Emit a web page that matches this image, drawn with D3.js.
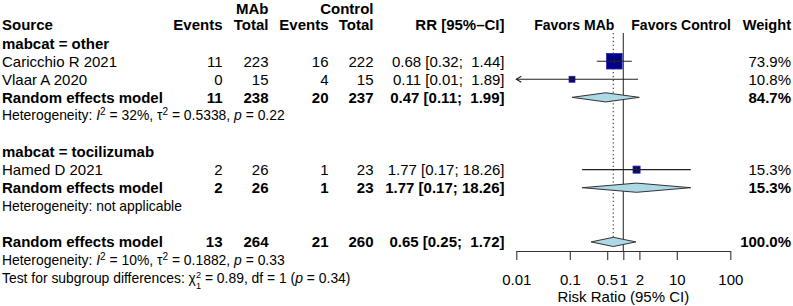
<!DOCTYPE html>
<html><head><meta charset="utf-8">
<script src="https://cdn.jsdelivr.net/npm/d3@7"></script>
<style>
body{margin:0;background:#fff}
svg{display:block}
text{font-family:"Liberation Sans",Arial,Helvetica,sans-serif;fill:#000;white-space:pre}
</style>
</head><body>
<svg id="chart" width="793" height="306"></svg>
<script>
// ---------- data ----------
const groupLabels = ["mabcat = other", "mabcat = tocilizumab"];
const studyNames = ["Caricchio R 2021", "Vlaar A 2020", "Hamed D 2021"];
const studyGroup = [0, 0, 1];
const eventsMAb = [11, 0, 2];
const totalMAb = [223, 15, 26];
const eventsCtrl = [16, 4, 1];
const totalCtrl = [222, 15, 23];
const rrStudy = [0.68, 0.11, 1.77];
const lowStudy = [0.32, 0.0066, 0.17];
const highStudy = [1.44, 1.89, 18.26];
const weightStudy = [73.9, 10.8, 15.3];

const reEventsMAb = [11, 2];
const reTotalMAb = [238, 26];
const reEventsCtrl = [20, 1];
const reTotalCtrl = [237, 23];
const rrGroup = [0.47, 1.77];
const lowGroup = [0.11, 0.17];
const highGroup = [1.99, 18.26];
const weightGroup = [84.7, 15.3];
const hetGroup = [
  {i2: "32%", tau2: "0.5338", p: "0.22"},
  null
];

const overall = {eventsMAb: 13, totalMAb: 264, eventsCtrl: 21, totalCtrl: 260, rr: 0.65, low: 0.25, high: 1.72, weight: 100.0};
const hetOverall = {i2: "10%", tau2: "0.1882", p: "0.33"};
const subgroupTest = {chi2: "0.89", df: "1", p: "0.34"};

const tickValues = [0.01, 0.1, 0.5, 1, 2, 10, 100];
const axisTitle = "Risk Ratio (95% CI)";
const leftLabel = "Favors MAb";
const rightLabel = "Favors Control";

// ---------- layout ----------
const svg = d3.select("#chart");
const FS = 15, FSH = 13.9, FSL = 14;
const x = d3.scaleLog().domain([0.01, 100]).range([516.3, 730.3]);
const nRows = 16;
const y = d3.scaleLinear().domain([0, nRows - 1]).range([7, 7 + 15 * 18.07]);
const col = {src: 2, ev: 222.5, tot: 268.5, cev: 328.5, ctot: 373.5, rr: 504.5, wt: 791};

function txt(xp, yp, s, opt = {}) {
  return svg.append("text")
    .attr("x", xp)
    .attr("y", yp)
    .attr("dy", "0.36em")
    .attr("font-size", opt.fs || FS)
    .attr("font-weight", opt.bold ? "bold" : "normal")
    .attr("text-anchor", opt.anchor || "start")
    .text(s);
}

const fmt2 = v => v.toFixed(2);
function ciText(rr, lo, hi) {
  return fmt2(rr) + " [" + fmt2(lo) + "; " + fmt2(hi).padStart(5, " ") + "]";
}

// build rows
const rows = [];
rows.push({type: "h1"});
rows.push({type: "h2"});
groupLabels.forEach((g, gi) => {
  rows.push({type: "group", label: g});
  studyNames.forEach((s, i) => { if (studyGroup[i] === gi) rows.push({type: "study", i}); });
  rows.push({type: "re", gi});
  rows.push({type: "hetg", gi});
  rows.push({type: "blank"});
});
rows.pop();
rows.push({type: "blank"});
rows.push({type: "overall"});
rows.push({type: "hetall"});
rows.push({type: "test"});

function hetText(yp, h) {
  const t = txt(col.src, yp, "", {fs: FSH});
  if (!h) { t.text("Heterogeneity: not applicable"); return; }
  t.append("tspan").text("Heterogeneity: ");
  t.append("tspan").attr("font-style", "italic").text("I");
  t.append("tspan").attr("font-size", FSH * 0.72).attr("dy", -5).text("2");
  t.append("tspan").attr("dy", 5).text(" = " + h.i2 + ", \u03C4");
  t.append("tspan").attr("font-size", FSH * 0.72).attr("dy", -5).text("2");
  t.append("tspan").attr("dy", 5).text(" = " + h.tau2 + ", ");
  t.append("tspan").attr("font-style", "italic").text("p");
  t.append("tspan").text(" = " + h.p);
}

// plot reference lines (behind marks)
const rowOverall = rows.findIndex(r => r.type === "overall");
const axisY = (y(rowOverall) + y(rowOverall + 1)) / 2;
const topY = y(1) + 8;
svg.append("line").attr("x1", x(1)).attr("x2", x(1)).attr("y1", topY).attr("y2", axisY)
  .attr("stroke", "#333").attr("stroke-width", 1.1);
svg.append("line").attr("x1", x(overall.rr)).attr("x2", x(overall.rr)).attr("y1", topY).attr("y2", y(rowOverall) - 4.5)
  .attr("stroke", "#555").attr("stroke-width", 1.3).attr("stroke-dasharray", "1.3,2.6");

const diamondH = 4.6;
function diamond(yc, rr, lo, hi) {
  const pts = [[x(lo), yc], [x(rr), yc - diamondH], [x(hi), yc], [x(rr), yc + diamondH]];
  svg.append("polygon").attr("points", pts.map(p => p.join(",")).join(" "))
    .attr("fill", "#ADD8E6").attr("stroke", "#333").attr("stroke-width", 1);
}

const maxW = d3.max(weightStudy);
rows.forEach((r, k) => {
  const yk = y(k);
  if (r.type === "h1") {
    txt(col.tot, yk + 2, "MAb", {bold: true, anchor: "end"});
    txt(col.ctot, yk + 2, "Control", {bold: true, anchor: "end"});
  } else if (r.type === "h2") {
    txt(col.src, yk, "Source", {bold: true});
    txt(col.ev, yk, "Events", {bold: true, anchor: "end"});
    txt(col.tot, yk, "Total", {bold: true, anchor: "end"});
    txt(col.cev, yk, "Events", {bold: true, anchor: "end"});
    txt(col.ctot, yk, "Total", {bold: true, anchor: "end"});
    txt(col.rr, yk, "RR [95%\u2013CI]", {bold: true, anchor: "end"});
    txt(x(1) - 9, yk, leftLabel, {bold: true, anchor: "end", fs: FSL});
    txt(x(1) + 8, yk, rightLabel, {bold: true, fs: FSL});
    txt(col.wt, yk, "Weight", {bold: true, anchor: "end", fs: 14.6});
  } else if (r.type === "group") {
    txt(col.src, yk, r.label, {bold: true});
  } else if (r.type === "study") {
    const i = r.i;
    txt(col.src, yk, studyNames[i]);
    txt(col.ev, yk, String(eventsMAb[i]), {anchor: "end"});
    txt(col.tot, yk, String(totalMAb[i]), {anchor: "end"});
    txt(col.cev, yk, String(eventsCtrl[i]), {anchor: "end"});
    txt(col.ctot, yk, String(totalCtrl[i]), {anchor: "end"});
    txt(col.rr, yk, ciText(rrStudy[i], lowStudy[i], highStudy[i]), {anchor: "end"});
    txt(col.wt, yk, weightStudy[i].toFixed(1) + "%", {anchor: "end"});
    // marks
    const side = 15.6 * Math.sqrt(weightStudy[i] / maxW);
    svg.append("rect").attr("x", x(rrStudy[i]) - side / 2).attr("y", yk - side / 2)
      .attr("width", side).attr("height", side)
      .attr("fill", "#00008B").attr("stroke", "#2828a8").attr("stroke-width", 0.8);
    const [d0, d1] = x.domain();
    const lo = Math.max(lowStudy[i], d0), hi = Math.min(highStudy[i], d1);
    svg.append("line").attr("x1", x(lo)).attr("x2", x(hi)).attr("y1", yk).attr("y2", yk)
      .attr("stroke", "#222").attr("stroke-width", 1.1);
    svg.append("line").attr("x1", x(rrStudy[i])).attr("x2", x(rrStudy[i])).attr("y1", yk - 2.5).attr("y2", yk + 2.5)
      .attr("stroke", "#222").attr("stroke-width", 1.1);
    if (lowStudy[i] < d0) {
      const ax = x(d0);
      svg.append("path").attr("d", `M${ax + 5},${yk - 3}L${ax},${yk}L${ax + 5},${yk + 3}`)
        .attr("fill", "none").attr("stroke", "#222").attr("stroke-width", 1.1);
    }
  } else if (r.type === "re") {
    const gi = r.gi;
    txt(col.src, yk, "Random effects model", {bold: true});
    txt(col.ev, yk, String(reEventsMAb[gi]), {bold: true, anchor: "end"});
    txt(col.tot, yk, String(reTotalMAb[gi]), {bold: true, anchor: "end"});
    txt(col.cev, yk, String(reEventsCtrl[gi]), {bold: true, anchor: "end"});
    txt(col.ctot, yk, String(reTotalCtrl[gi]), {bold: true, anchor: "end"});
    txt(col.rr, yk, ciText(rrGroup[gi], lowGroup[gi], highGroup[gi]), {bold: true, anchor: "end"});
    txt(col.wt, yk, weightGroup[gi].toFixed(1) + "%", {bold: true, anchor: "end"});
    diamond(yk, rrGroup[gi], lowGroup[gi], highGroup[gi]);
  } else if (r.type === "hetg") {
    hetText(yk, hetGroup[r.gi]);
  } else if (r.type === "overall") {
    txt(col.src, yk, "Random effects model", {bold: true});
    txt(col.ev, yk, String(overall.eventsMAb), {bold: true, anchor: "end"});
    txt(col.tot, yk, String(overall.totalMAb), {bold: true, anchor: "end"});
    txt(col.cev, yk, String(overall.eventsCtrl), {bold: true, anchor: "end"});
    txt(col.ctot, yk, String(overall.totalCtrl), {bold: true, anchor: "end"});
    txt(col.rr, yk, ciText(overall.rr, overall.low, overall.high), {bold: true, anchor: "end"});
    txt(col.wt, yk, overall.weight.toFixed(1) + "%", {bold: true, anchor: "end"});
    diamond(yk, overall.rr, overall.low, overall.high);
  } else if (r.type === "hetall") {
    hetText(yk, hetOverall);
  } else if (r.type === "test") {
    const t = txt(col.src, yk, "", {fs: FSH});
    const fsS = 9.2;
    t.append("tspan").text("Test for subgroup differences: \u03C7");
    t.append("tspan").attr("font-size", fsS).attr("dy", -5).text("2");
    t.append("tspan").attr("font-size", fsS).attr("dx", -fsS * 0.556).attr("dy", 10.6).text("1");
    t.append("tspan").attr("dy", -5.6).text(" = " + subgroupTest.chi2 + ", df = " + subgroupTest.df + " (");
    t.append("tspan").attr("font-style", "italic").text("p");
    t.append("tspan").text(" = " + subgroupTest.p + ")");
  }
});

// axis
const axis = d3.axisBottom(x).tickValues(tickValues).tickFormat(d3.format("~g"))
  .tickSize(9).tickSizeOuter(0).tickPadding(14);
const ag = svg.append("g").attr("transform", `translate(0,${axisY})`).call(axis);
ag.select(".domain").attr("stroke", "#333").attr("stroke-width", 1.1);
ag.selectAll(".tick line").attr("stroke", "#333").attr("stroke-width", 1.1);
ag.selectAll(".tick text").attr("font-size", FS).attr("font-family", '"Liberation Sans",Arial,sans-serif').attr("fill", "#000");
svg.append("text").attr("x", x(1)).attr("y", 297).attr("dy", "0.36em").attr("text-anchor", "middle")
  .attr("font-size", FS).text(axisTitle);
</script>
</body></html>
